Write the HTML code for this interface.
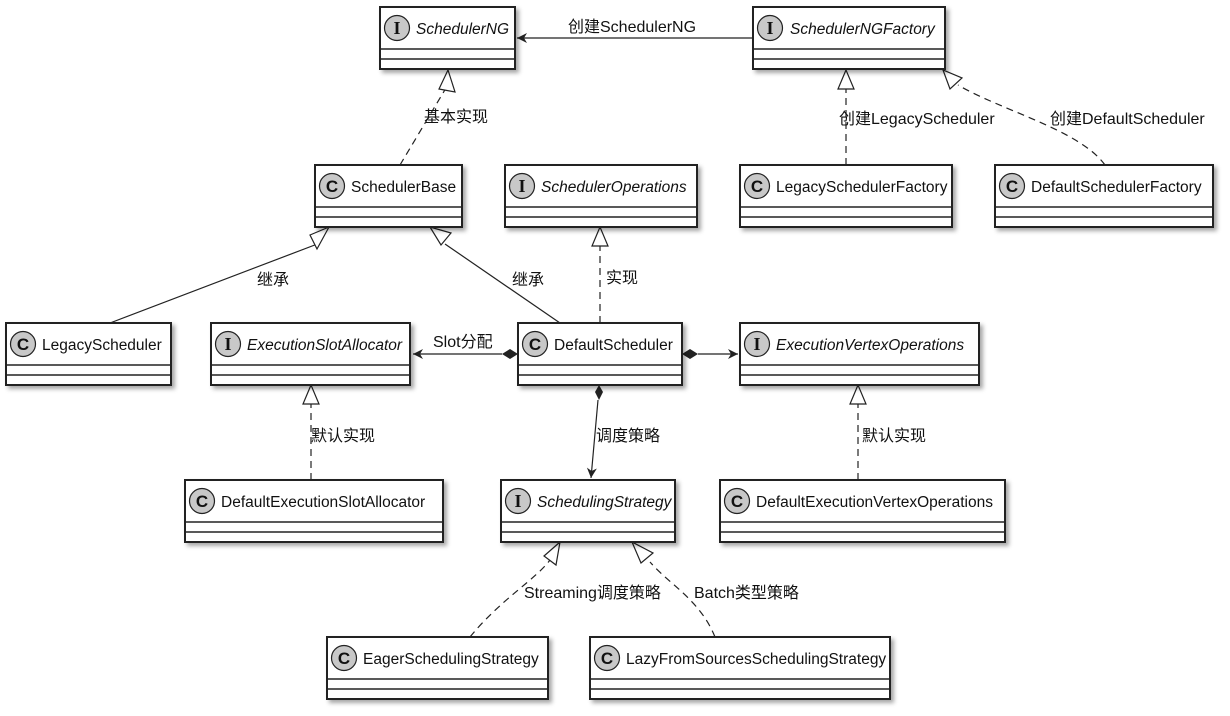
<!DOCTYPE html>
<html><head><meta charset="utf-8"><style>
html,body{margin:0;padding:0;background:#fff}
svg text{font-family:"Liberation Sans","Noto Sans CJK SC",sans-serif;font-size:16px;fill:#111}
.it{font-style:italic}
.n text{font-size:15.5px}
</style></head><body>
<svg width="1230" height="711" viewBox="0 0 1230 711" xmlns="http://www.w3.org/2000/svg">
<defs>
<marker id="arr" viewBox="0 0 12 12" refX="11" refY="6" markerWidth="12" markerHeight="12" markerUnits="userSpaceOnUse" orient="auto"><path d="M1,1 L11,6 L1,11 L4,6 Z" fill="#222"/></marker>
<filter id="sh"><feDropShadow dx="3" dy="3" stdDeviation="2" flood-color="#000" flood-opacity="0.35"/></filter>
</defs>
<g stroke="#222" stroke-width="1.2" fill="none">
<line x1="753" y1="38" x2="517" y2="38" marker-end="url(#arr)"/>
<path d="M400,165 L446,88" stroke-dasharray="7,5"/>
<path d="M846,165 L846,88" stroke-dasharray="7,5"/>
<path d="M1105,165 C1080,130 1000,110 958,85" stroke-dasharray="7,5"/>
<path d="M110,323 L320,243"/>
<path d="M560,323 L445,244"/>
<path d="M600,323 L600,246" stroke-dasharray="7,5"/>
<line x1="502" y1="354" x2="413" y2="354" marker-end="url(#arr)"/>
<line x1="698" y1="354" x2="738" y2="354" marker-end="url(#arr)"/>
<line x1="598" y1="400" x2="591" y2="478" marker-end="url(#arr)"/>
<path d="M311,480 L311,404" stroke-dasharray="7,5"/>
<path d="M858,480 L858,404" stroke-dasharray="7,5"/>
<path d="M470,637 C500,600 535,580 550,560" stroke-dasharray="7,5"/>
<path d="M715,637 C700,600 670,585 650,562" stroke-dasharray="7,5"/>
</g>
<g fill="#fff" stroke="#222" stroke-width="1.2">
<path d="M448,70 L439,89 L455,92 Z"/>
<path d="M846,70 L838,89 L854,89 Z"/>
<path d="M943,70 L950,89 L962,78 Z"/>
<path d="M329,227 L310,235 L317,249 Z"/>
<path d="M430,227 L441,245 L451,233 Z"/>
<path d="M600,227 L592,246 L608,246 Z"/>
<path d="M311,385 L303,404 L319,404 Z"/>
<path d="M858,385 L850,404 L866,404 Z"/>
<path d="M560,542 L544,556 L556,565 Z"/>
<path d="M632,542 L641,563 L653,553 Z"/>
</g>
<g fill="#222">
<path d="M518,354 L510,349 L502,354 L510,359 Z"/>
<path d="M682,354 L690,349 L698,354 L690,359 Z"/>
<path d="M599,385 L595,392 L599,400 L603,392 Z"/>
</g>
<text x="568" y="32">创建SchedulerNG</text>
<text x="424" y="122">基本实现</text>
<text x="839" y="124">创建LegacyScheduler</text>
<text x="1050" y="124">创建DefaultScheduler</text>
<text x="257" y="285">继承</text>
<text x="512" y="285">继承</text>
<text x="606" y="283">实现</text>
<text x="433" y="347">Slot分配</text>
<text x="311" y="441">默认实现</text>
<text x="596" y="441">调度策略</text>
<text x="862" y="441">默认实现</text>
<text x="524" y="598">Streaming调度策略</text>
<text x="694" y="598">Batch类型策略</text>
<g filter="url(#sh)" fill="#fff" stroke="#222" stroke-width="2">
<rect x="380" y="7" width="135" height="62"/>
<rect x="753" y="7" width="192" height="62"/>
<rect x="315" y="165" width="147" height="62"/>
<rect x="505" y="165" width="192" height="62"/>
<rect x="740" y="165" width="212" height="62"/>
<rect x="995" y="165" width="218" height="62"/>
<rect x="6" y="323" width="165" height="62"/>
<rect x="211" y="323" width="199" height="62"/>
<rect x="518" y="323" width="164" height="62"/>
<rect x="740" y="323" width="239" height="62"/>
<rect x="185" y="480" width="258" height="62"/>
<rect x="501" y="480" width="174" height="62"/>
<rect x="720" y="480" width="285" height="62"/>
<rect x="327" y="637" width="221" height="62"/>
<rect x="590" y="637" width="300" height="62"/>
</g>
<g stroke="#222" stroke-width="1.5">
<path d="M380,49H515M380,59H515 M753,49H945M753,59H945 M315,207H462M315,217H462 M505,207H697M505,217H697 M740,207H952M740,217H952 M995,207H1213M995,217H1213 M6,365H171M6,375H171 M211,365H410M211,375H410 M518,365H682M518,375H682 M740,365H979M740,375H979 M185,522H443M185,532H443 M501,522H675M501,532H675 M720,522H1005M720,532H1005 M327,679H548M327,689H548 M590,679H890M590,689H890"/>
</g>
<g fill="#c8c8c8" stroke="#222" stroke-width="1.2">
<circle cx="397" cy="28" r="12.5"/><circle cx="770" cy="28" r="12.5"/>
<circle cx="332" cy="186" r="12.5"/><circle cx="522" cy="186" r="12.5"/>
<circle cx="757" cy="186" r="12.5"/><circle cx="1012" cy="186" r="12.5"/>
<circle cx="23" cy="344" r="12.5"/><circle cx="228" cy="344" r="12.5"/>
<circle cx="535" cy="344" r="12.5"/><circle cx="757" cy="344" r="12.5"/>
<circle cx="202" cy="501" r="12.5"/><circle cx="518" cy="501" r="12.5"/>
<circle cx="737" cy="501" r="12.5"/><circle cx="344" cy="658" r="12.5"/>
<circle cx="607" cy="658" r="12.5"/>
</g>
<g text-anchor="middle" style="font-weight:bold">
<text x="397" y="34" style="font-family:'Liberation Serif',serif;font-weight:bold;font-size:18px">I</text>
<text x="770" y="34" style="font-family:'Liberation Serif',serif;font-weight:bold;font-size:18px">I</text>
<text x="332" y="192" style="font-weight:bold;font-size:17px">C</text>
<text x="522" y="192" style="font-family:'Liberation Serif',serif;font-weight:bold;font-size:18px">I</text>
<text x="757" y="192" style="font-weight:bold;font-size:17px">C</text>
<text x="1012" y="192" style="font-weight:bold;font-size:17px">C</text>
<text x="23" y="350" style="font-weight:bold;font-size:17px">C</text>
<text x="228" y="350" style="font-family:'Liberation Serif',serif;font-weight:bold;font-size:18px">I</text>
<text x="535" y="350" style="font-weight:bold;font-size:17px">C</text>
<text x="757" y="350" style="font-family:'Liberation Serif',serif;font-weight:bold;font-size:18px">I</text>
<text x="202" y="507" style="font-weight:bold;font-size:17px">C</text>
<text x="518" y="507" style="font-family:'Liberation Serif',serif;font-weight:bold;font-size:18px">I</text>
<text x="737" y="507" style="font-weight:bold;font-size:17px">C</text>
<text x="344" y="664" style="font-weight:bold;font-size:17px">C</text>
<text x="607" y="664" style="font-weight:bold;font-size:17px">C</text>
</g>
<g class="n">
<text class="it" x="416" y="34">SchedulerNG</text>
<text class="it" x="790" y="34">SchedulerNGFactory</text>
<text x="351" y="192">SchedulerBase</text>
<text class="it" x="541" y="192">SchedulerOperations</text>
<text x="776" y="192">LegacySchedulerFactory</text>
<text x="1031" y="192">DefaultSchedulerFactory</text>
<text x="42" y="350">LegacyScheduler</text>
<text class="it" x="247" y="350">ExecutionSlotAllocator</text>
<text x="554" y="350">DefaultScheduler</text>
<text class="it" x="776" y="350">ExecutionVertexOperations</text>
<text x="221" y="507">DefaultExecutionSlotAllocator</text>
<text class="it" x="537" y="507">SchedulingStrategy</text>
<text x="756" y="507">DefaultExecutionVertexOperations</text>
<text x="363" y="664">EagerSchedulingStrategy</text>
<text x="626" y="664">LazyFromSourcesSchedulingStrategy</text>
</g>
</svg>
</body></html>
